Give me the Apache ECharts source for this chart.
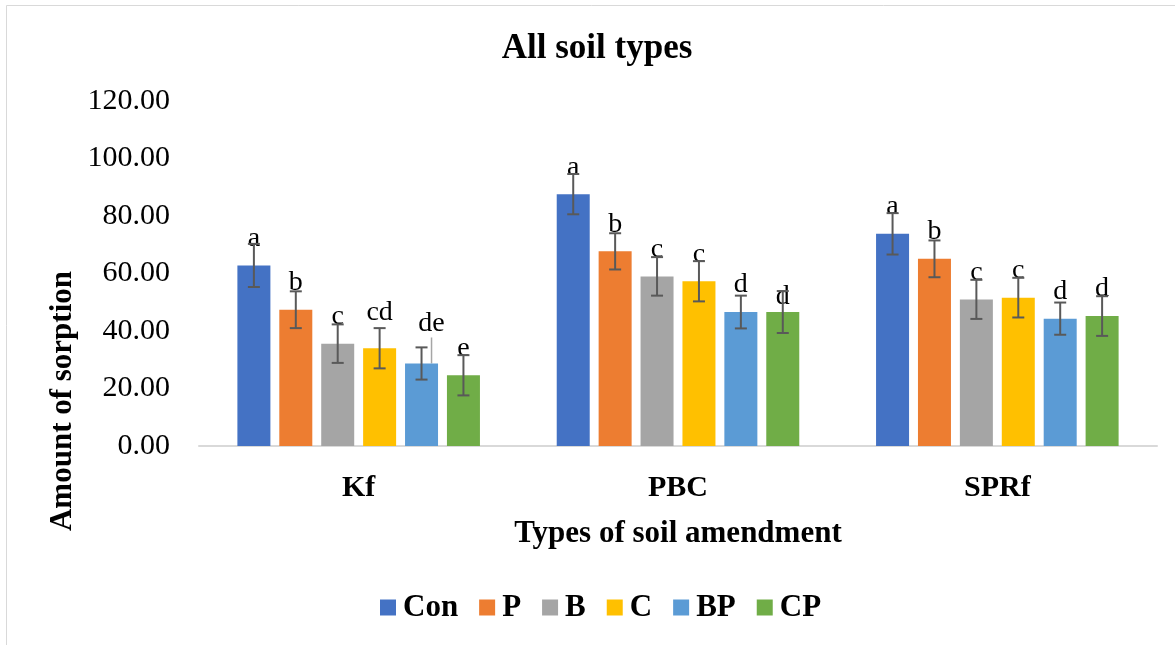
<!DOCTYPE html>
<html>
<head>
<meta charset="utf-8">
<script src="https://cdn.jsdelivr.net/npm/echarts@6/dist/echarts.min.js"></script>
<style>html,body{margin:0;padding:0;background:#fff;}#c{width:1175px;height:645px;}</style>
</head>
<body>
<div id="c"></div>
<script>
var categories = ['Kf', 'PBC', 'SPRf'];
var seriesNames = ['Con', 'P', 'B', 'C', 'BP', 'CP'];
var conVals = [62.8, 87.6, 73.8];
var pVals = [47.4, 67.7, 65.1];
var bVals = [35.6, 59.0, 51.0];
var cVals = [34.0, 57.3, 51.6];
var bpVals = [28.7, 46.6, 44.3];
var cpVals = [24.6, 46.6, 45.2];
var conErr = [7.5, 7.0, 7.2];
var pErr = [6.4, 6.3, 6.4];
var bErr = [6.7, 6.7, 6.8];
var cErr = [7.0, 7.0, 6.9];
var bpErr = [5.6, 5.7, 5.6];
var cpErr = [7.0, 7.3, 6.9];
var conLetters = ['a', 'a', 'a'];
var pLetters = ['b', 'b', 'b'];
var bLetters = ['c', 'c', 'c'];
var cLetters = ['cd', 'c', 'c'];
var bpLetters = ['de', 'd', 'd'];
var cpLetters = ['e', 'd', 'd'];
var yTicks = [0, 20, 40, 60, 80, 100, 120];

var values = [conVals, pVals, bVals, cVals, bpVals, cpVals];
var errs = [conErr, pErr, bErr, cErr, bpErr, cpErr];
var letters = [conLetters, pLetters, bLetters, cLetters, bpLetters, cpLetters];
var colors = ['#4472C4', '#ED7D31', '#A5A5A5', '#FFC000', '#5B9BD5', '#70AD47'];

var FONT = '"Liberation Serif", "Times New Roman", serif';
var BAR_W = 33, BAR_GAP = 0.27;
// label nudges (layout only)
var labelShift = {'3-0': {dy: -9}, '4-0': {dy: -13, dx: 10}, '5-1': {dy: 12}};

var series = [];
values.forEach(function (vals, si) {
  series.push({
    name: seriesNames[si],
    type: 'bar',
    barWidth: BAR_W,
    barGap: (BAR_GAP * 100) + '%',
    itemStyle: {color: colors[si]},
    z: 2,
    data: vals.map(function (v, di) {
      var item = {value: v};
      if (si === 4 && di === 0) {
        item.labelLine = {show: true, lineStyle: {color: '#a6a6a6', width: 1.5}};
      }
      return item;
    }),
    label: {
      show: true,
      position: 'top',
      distance: 13,
      fontFamily: FONT,
      fontSize: 28,
      color: '#000',
      formatter: function (p) { return letters[p.seriesIndex][p.dataIndex]; }
    },
    labelLine: {show: false},
    labelLayout: function (p) {
      var s = labelShift[p.seriesIndex + '-' + p.dataIndex];
      return s ? {dx: s.dx || 0, dy: s.dy} : {};
    }
  });
});
values.forEach(function (vals, si) {
  series.push({
    type: 'custom',
    name: seriesNames[si] + '_err',
    z: 5,
    silent: true,
    data: vals.map(function (v, di) { return [di, v, errs[si][di]]; }),
    renderItem: function (params, api) {
      var cat = api.value(0), v = api.value(1), e = api.value(2);
      var off = (si - 2.5) * BAR_W * (1 + BAR_GAP);
      var hi = api.coord([cat, v + e]);
      var lo = api.coord([cat, v - e]);
      var x = hi[0] + off;
      var cw = 6;
      var st = {stroke: '#595959', lineWidth: 2};
      return {
        type: 'group',
        children: [
          {type: 'line', shape: {x1: x, y1: hi[1], x2: x, y2: lo[1]}, style: st},
          {type: 'line', shape: {x1: x - cw, y1: hi[1], x2: x + cw, y2: hi[1]}, style: st},
          {type: 'line', shape: {x1: x - cw, y1: lo[1], x2: x + cw, y2: lo[1]}, style: st}
        ]
      };
    }
  });
});

var chart = echarts.init(document.getElementById('c'));
chart.setOption({
  animation: false,
  backgroundColor: '#fff',
  title: {
    text: 'All soil types',
    left: 592,
    textAlign: 'center',
    top: 26,
    textStyle: {fontFamily: FONT, fontSize: 35, fontWeight: 'bold', color: '#000'}
  },
  legend: {
    data: seriesNames,
    left: 380,
    top: 592,
    padding: 0,
    icon: 'rect',
    itemWidth: 16,
    itemHeight: 16,
    itemGap: 21,
    textStyle: {fontFamily: FONT, fontSize: 31, fontWeight: 'bold', color: '#000', padding: [0, 0, 0, 2]}
  },
  grid: {left: 199, right: 18, top: 101, bottom: 199, containLabel: false},
  xAxis: {
    type: 'category',
    data: categories,
    axisLine: {lineStyle: {color: '#d9d9d9', width: 2}},
    axisTick: {show: false},
    axisLabel: {fontFamily: FONT, fontSize: 30, fontWeight: 'bold', color: '#000', margin: 27},
    name: 'Types of soil amendment',
    nameLocation: 'middle',
    nameGap: 72,
    nameTextStyle: {fontFamily: FONT, fontSize: 31, fontWeight: 'bold', color: '#000'}
  },
  yAxis: {
    type: 'value',
    min: yTicks[0],
    max: yTicks[yTicks.length - 1],
    interval: yTicks[1] - yTicks[0],
    axisLine: {show: false},
    axisTick: {show: false},
    splitLine: {show: false},
    axisLabel: {
      fontFamily: FONT, fontSize: 30, color: '#000', margin: 29,
      formatter: function (v) { return v.toFixed(2); }
    }
  },
  graphic: [
    {type: 'rect', silent: true, shape: {x: 6.5, y: 5.5, width: 1400, height: 1000},
     style: {fill: 'none', stroke: '#d9d9d9', lineWidth: 1}},
    {type: 'text', x: 63, y: 401, rotation: Math.PI / 2,
     style: {text: 'Amount of sorption', fontFamily: FONT, fontSize: 31, fontWeight: 'bold',
             fill: '#000', textAlign: 'center', textVerticalAlign: 'middle'}}
  ],
  series: series
});
</script>
</body>
</html>
